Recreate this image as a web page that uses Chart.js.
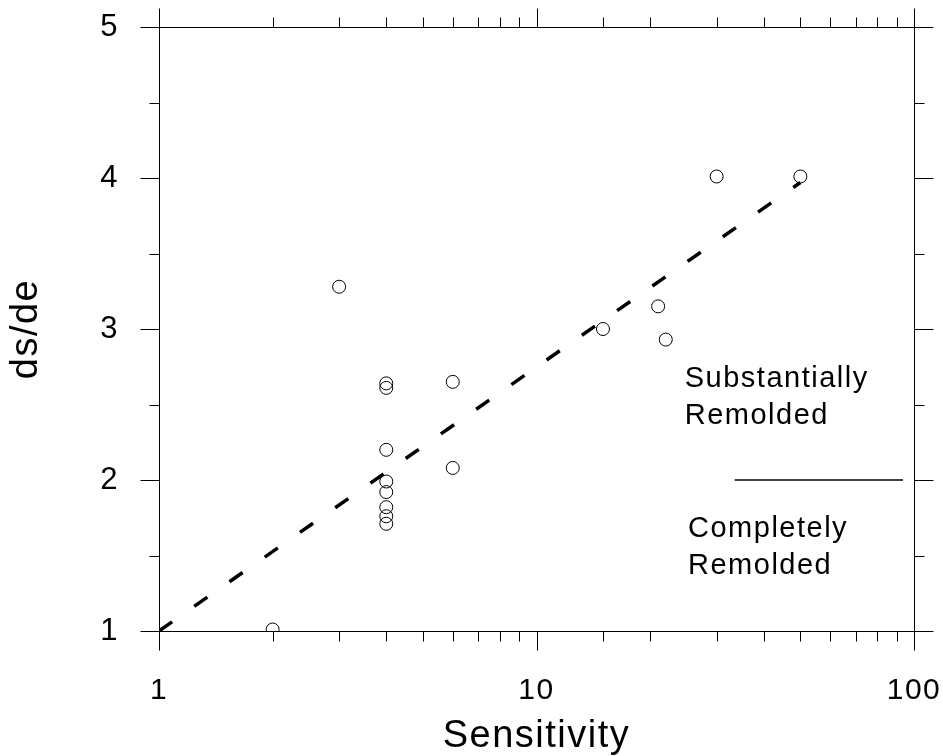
<!DOCTYPE html>
<html>
<head>
<meta charset="utf-8">
<script src="https://cdn.jsdelivr.net/npm/chart.js@4.4.1/dist/chart.umd.min.js"></script>
<style>
  html, body { margin: 0; padding: 0; background: #fff; }
  #wrap { width: 943px; height: 756px; }
</style>
</head>
<body>
<div id="wrap"><canvas id="chart" width="943" height="756"></canvas></div>
<script>
// measured points
const sensitivity = [2, 3, 4, 4, 4, 4, 4, 4, 4, 4, 6, 6, 15, 21, 22, 30, 50];
const dsde = [1.01, 3.28, 2.64, 2.61, 2.2, 1.99, 1.92, 1.82, 1.76, 1.71, 2.65, 2.08, 3.0, 3.15, 2.93, 4.01, 4.01];

// dashed trend line
const fitX = [1, 50];
const fitY = [1, 3.97];

// boundary between the two zones
const boundaryX = [33.5, 93.5];
const boundaryY = [2, 2];

const xTickLabels = [1, 10, 100];
const yTickLabels = [1, 2, 3, 4, 5];

const zoneLabels = [
    { lines: ['Substantially', 'Remolded'], x: 24.7, y: 2.618 },
    { lines: ['Completely', 'Remolded'], x: 25.2, y: 1.623 }
];

const FONT = '"Liberation Sans", Arial, sans-serif';
Chart.defaults.font.family = FONT;
Chart.defaults.color = '#000';

const toPoints = (xs, ys) => xs.map((x, i) => ({ x, y: ys[i] }));

// box + outward tick marks on all four sides, plus zone text
const frameTicks = {
    id: 'frameTicks',
    beforeDraw(chart) {
        chart.ctx.letterSpacing = '1.5px';
    },
    afterDraw(chart) {
        const { ctx, chartArea: a, scales: { x, y } } = chart;
        const L = Math.round(a.left) + 0.5, R = Math.round(a.right) + 0.5;
        const T = Math.round(a.top) + 0.5, B = Math.round(a.bottom) + 0.5;
        ctx.save();
        ctx.strokeStyle = '#000';
        ctx.lineWidth = 1;
        ctx.beginPath();
        ctx.rect(L, T, R - L, B - T);
        x.ticks.forEach(t => {
            const px = Math.round(x.getPixelForValue(t.value)) + 0.5;
            const len = xTickLabels.includes(t.value) ? 19 : 10;
            ctx.moveTo(px, B); ctx.lineTo(px, B + len);
            ctx.moveTo(px, T); ctx.lineTo(px, T - len);
        });
        y.ticks.forEach(t => {
            const py = Math.round(y.getPixelForValue(t.value)) + 0.5;
            const len = yTickLabels.includes(t.value) ? 19 : 10;
            ctx.moveTo(L, py); ctx.lineTo(L - len, py);
            ctx.moveTo(R, py); ctx.lineTo(R + len, py);
        });
        ctx.stroke();

        ctx.fillStyle = '#000';
        ctx.font = '29px ' + FONT;
        ctx.textAlign = 'left';
        ctx.textBaseline = 'alphabetic';
        zoneLabels.forEach(z => {
            const px = x.getPixelForValue(z.x);
            const py = y.getPixelForValue(z.y);
            z.lines.forEach((s, i) => ctx.fillText(s, px, py + i * 37));
        });
        ctx.restore();
    }
};

new Chart(document.getElementById('chart'), {
    type: 'scatter',
    data: {
        datasets: [
            {
                label: 'fit',
                data: toPoints(fitX, fitY),
                showLine: true,
                borderColor: '#000',
                borderWidth: 3.5,
                borderDash: [16, 27],
                borderCapStyle: 'butt',
                pointRadius: 0
            },
            {
                label: 'boundary',
                data: toPoints(boundaryX, boundaryY),
                showLine: true,
                borderColor: '#000',
                borderWidth: 1.4,
                pointRadius: 0
            },
            {
                label: 'samples',
                data: toPoints(sensitivity, dsde),
                pointStyle: 'circle',
                pointRadius: 6.5,
                pointBorderWidth: 1,
                pointBorderColor: '#000',
                pointBackgroundColor: 'rgba(255,255,255,0)'
            }
        ]
    },
    options: {
        responsive: false,
        animation: false,
        events: [],
        layout: { padding: { top: 27, right: 29, left: 0, bottom: 0 } },
        plugins: { legend: { display: false }, tooltip: { enabled: false } },
        scales: {
            x: {
                type: 'logarithmic',
                min: 1,
                max: 100,
                border: { display: false },
                grid: { drawOnChartArea: false, drawTicks: false },
                ticks: {
                    autoSkip: false,
                    maxRotation: 0,
                    padding: 42,
                    font: { size: 30 },
                    callback: v => xTickLabels.includes(v) ? String(v) : ''
                },
                title: {
                    display: true,
                    text: 'Sensitivity',
                    font: { size: 38 },
                    padding: { top: 0, bottom: -3 }
                },
                afterFit: s => {
                    s.height = 125;
                    s.paddingLeft = 0;
                    s.paddingRight = 0;
                }
            },
            y: {
                min: 1,
                max: 5,
                border: { display: false },
                grid: { drawOnChartArea: false, drawTicks: false },
                ticks: {
                    stepSize: 0.5,
                    autoSkip: false,
                    padding: 40,
                    font: { size: 31 },
                    callback: v => yTickLabels.includes(v) ? String(v) : ''
                },
                title: {
                    display: true,
                    text: 'ds/de',
                    font: { size: 38 },
                    padding: { top: 4, bottom: 0 }
                },
                afterFit: s => {
                    s.width = 159;
                    s.paddingTop = 0;
                    s.paddingBottom = 0;
                }
            }
        }
    },
    plugins: [frameTicks]
});
</script>
</body>
</html>
